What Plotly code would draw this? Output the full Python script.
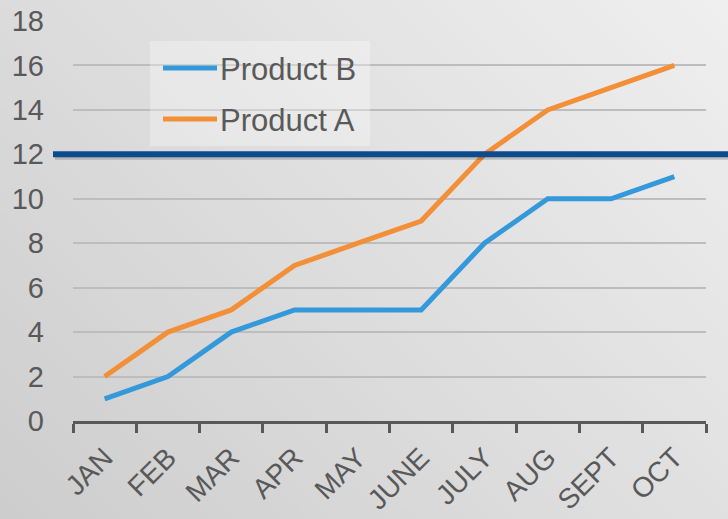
import plotly.graph_objects as go

months = ["JAN", "FEB", "MAR", "APR", "MAY", "JUNE", "JULY", "AUG", "SEPT", "OCT"]
product_b = [1, 2, 4, 5, 5, 5, 8, 10, 10, 11]
product_a = [2, 4, 5, 7, 8, 9, 12, 14, 15, 16]
series_names = ["Product B", "Product A"]
target = 12
y_ticks = [0, 2, 4, 6, 8, 10, 12, 14, 16, 18]

W, H = 728, 519
ML, MR, MT, MB = 73, 22, 21, 98
PW, PH = W - ML - MR, H - MT - MB

BLUE = "#3499DB"
ORANGE = "#F28F37"
TEXT = "#595959"


def px(x):
    return (x - ML) / PW


def py(y):
    return (H - MB - y) / PH


fig = go.Figure()
fig.add_trace(go.Scatter(x=months, y=product_b, mode="lines", name=series_names[0],
                         line=dict(color=BLUE, width=5), showlegend=False))
fig.add_trace(go.Scatter(x=months, y=product_a, mode="lines", name=series_names[1],
                         line=dict(color=ORANGE, width=5), showlegend=False))

shapes = []
# diagonal gradient background
N = 48
smin, smax = -H, W
c0, c1 = 205, 239
for i in range(N):
    sa = smin + (smax - smin) * i / N - 1
    sb = smin + (smax - smin) * (i + 1) / N + 1
    if i == 0:
        sa -= 100
    if i == N - 1:
        sb += 100
    g = round(c0 + (c1 - c0) * (i + 0.5) / N)
    pts = [(sa - 200, -200), (sb - 200, -200), (sb + H + 200, H + 200), (sa + H + 200, H + 200)]
    path = "M " + " L ".join(f"{px(a):.5f},{py(b):.5f}" for a, b in pts) + " Z"
    shapes.append(dict(type="path", path=path, xref="paper", yref="paper",
                       fillcolor=f"rgb({g},{g},{g})", line=dict(width=0), layer="below"))

# target line with shadow
shapes.append(dict(type="line", xref="paper", yref="y", x0=px(55), x1=px(W + 5),
                   y0=target - 0.15, y1=target - 0.15,
                   line=dict(color="rgba(0,0,0,0.18)", width=4)))
shapes.append(dict(type="line", xref="paper", yref="y", x0=px(53), x1=px(W + 5),
                   y0=target, y1=target, line=dict(color="#0D4B8C", width=6)))

# manual legend
shapes.append(dict(type="rect", xref="paper", yref="paper", x0=px(150), x1=px(370),
                   y0=py(146), y1=py(41), fillcolor="rgba(255,255,255,0.3)",
                   line=dict(width=0)))
legend_items = [(series_names[0], BLUE, 68), (series_names[1], ORANGE, 119)]
annotations = []
for name, col, yy in legend_items:
    shapes.append(dict(type="line", xref="paper", yref="paper", x0=px(163), x1=px(217),
                       y0=py(yy), y1=py(yy), line=dict(color=col, width=5)))
    annotations.append(dict(x=px(218), y=py(yy + 1), xref="paper", yref="paper",
                            text=name, showarrow=False, xanchor="left", yanchor="middle",
                            font=dict(family="Liberation Sans, Arial", size=31, color=TEXT)))

fig.update_layout(
    width=W, height=H,
    margin=dict(l=ML, r=MR, t=MT, b=MB, autoexpand=False),
    paper_bgcolor="rgba(0,0,0,0)",
    plot_bgcolor="rgba(0,0,0,0)",
    shapes=shapes,
    annotations=annotations,
    showlegend=False,
    font=dict(family="Liberation Sans, Arial", color=TEXT),
    xaxis=dict(
        type="category", range=[-0.5, len(months) - 0.5], automargin=False,
        showgrid=False, showline=True, linecolor=TEXT, linewidth=3,
        ticks="outside", tickson="boundaries", ticklen=9, tickwidth=3, tickcolor=TEXT,
        tickangle=-45, tickfont=dict(size=28, color=TEXT), ticklabelstandoff=6,
    ),
    yaxis=dict(
        range=[0, 18], tickvals=y_ticks, showgrid=True, gridcolor="#BDBDBD", gridwidth=1.5,
        zeroline=False, showline=False, ticks="", ticklabelstandoff=28, automargin=False,
        tickfont=dict(size=29, color=TEXT),
    ),
)

fig.write_html("out.html", config={"displayModeBar": False},
               post_script="document.body.style.margin='0';")
